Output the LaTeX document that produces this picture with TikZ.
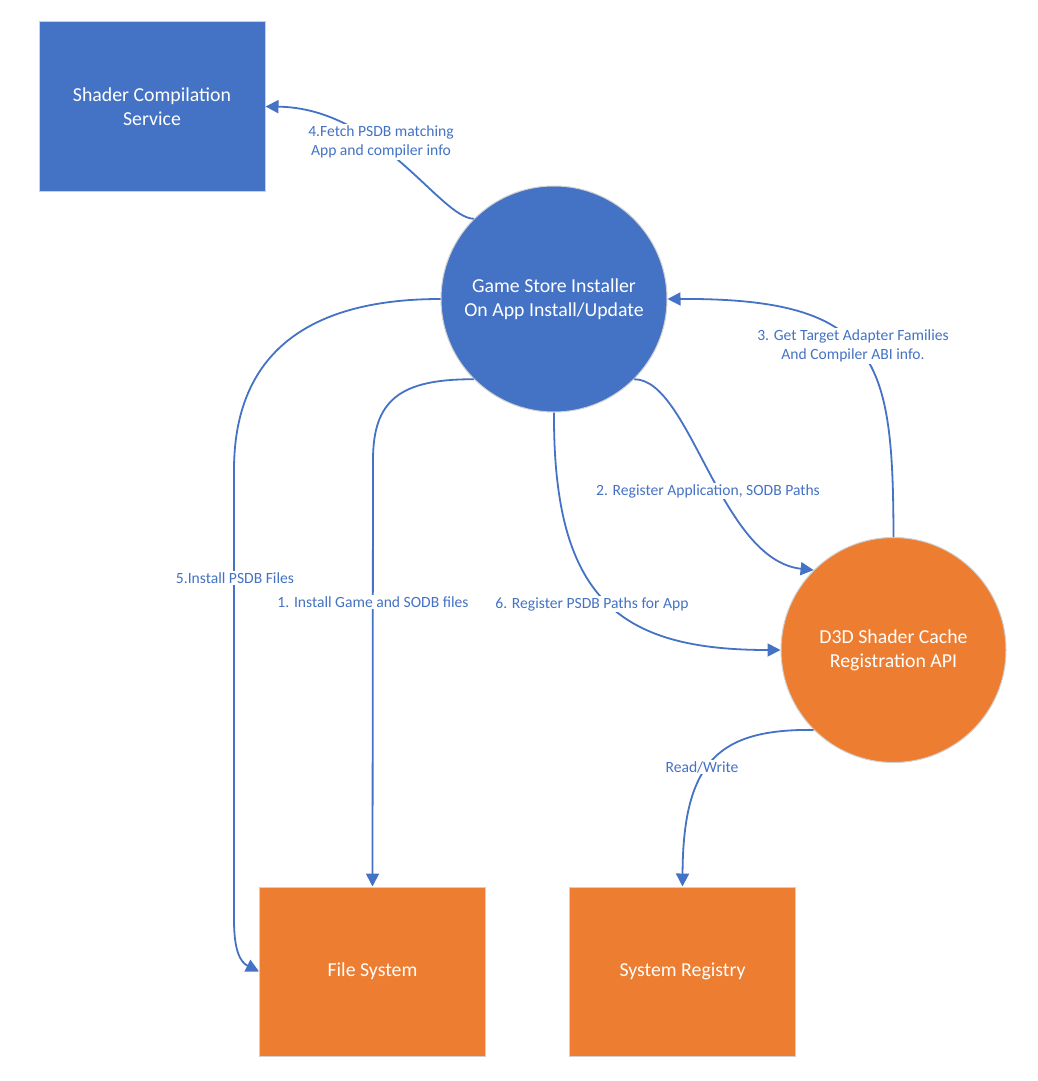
\documentclass[tikz,border=0pt]{standalone}
\usepackage{fontspec}
\setmainfont{Carlito}
\usetikzlibrary{arrows.meta}
\definecolor{msblue}{HTML}{4472C4}
\definecolor{msorange}{HTML}{ED7D31}
\definecolor{edgegray}{HTML}{D0D0D0}
\begin{document}
\begin{tikzpicture}[x=1pt,y=-1pt,
  box/.style={rectangle, draw=edgegray, line width=1pt, minimum width=226pt, minimum height=169pt, inner sep=0pt, text=white, font=\fontsize{19.8}{24}\selectfont, align=center},
  circ/.style={circle, draw=edgegray, line width=1pt, minimum size=226pt, inner sep=0pt, text=white, font=\fontsize{19.8}{24}\selectfont, align=center},
  conn/.style={draw=msblue, line width=1.8pt, -{Triangle[length=13pt,width=13pt]}},
  lbl/.style={fill=white, text=msblue, font=\fontsize{15.6}{19.5}\selectfont, align=center, inner sep=1.5pt}
]
\useasboundingbox[fill=white] (0,0) rectangle (1038,1081);

% shapes
\node[box, fill=msblue] (sc) at (152,106.5) {Shader Compilation\\Service};
\node[circ, fill=msblue] (gs) at (554,299) {Game Store Installer\\On App Install/Update};
\node[circ, fill=msorange, minimum size=225pt] (d3d) at (893.5,650) {D3D Shader Cache\\Registration API};
\node[box, fill=msorange] (fs) at (372.5,971.5) {File System};
\node[box, fill=msorange] (sr) at (682.5,971.5) {System Registry};

% connectors
\draw[conn] (gs.135) .. controls (440,218) and (380,108) .. (sc.east);
\draw[conn] (gs.west) .. controls (300,299) and (234,360) .. (234,470) -- (234,920) .. controls (234,950) and (240,962) .. (fs.west);
\draw[conn] (gs.225) .. controls (400,379) and (373,400) .. (373,460) -- (fs.north);
\draw[conn] (gs.south) .. controls (553,600) and (620,650) .. (d3d.west);
\draw[conn] (gs.-45) .. controls (690,379) and (720,560) .. (d3d.135);
\draw[conn] (d3d.north) .. controls (893,360) and (880,298) .. (gs.east);
\draw[conn] (d3d.225) .. controls (720,729) and (683,760) .. (sr.north);

% labels
\node[lbl] (l4) at (381,142) {4.Fetch PSDB matching\\App and compiler info};
\node[lbl] (l3) at (853,346) {3. Get Target Adapter Families\\And Compiler ABI info.};
\node[lbl] (l2) at (708,491) {2. Register Application, SODB Paths};
\node[lbl] (l5) at (235,578) {5.Install PSDB Files};
\node[lbl] (l1) at (373,602) {1. Install Game and SODB files};
\node[lbl] (l6) at (592,604) {6. Register PSDB Paths for App};
\node[lbl] (l7) at (702,767) {Read/Write};
\end{tikzpicture}
\end{document}
